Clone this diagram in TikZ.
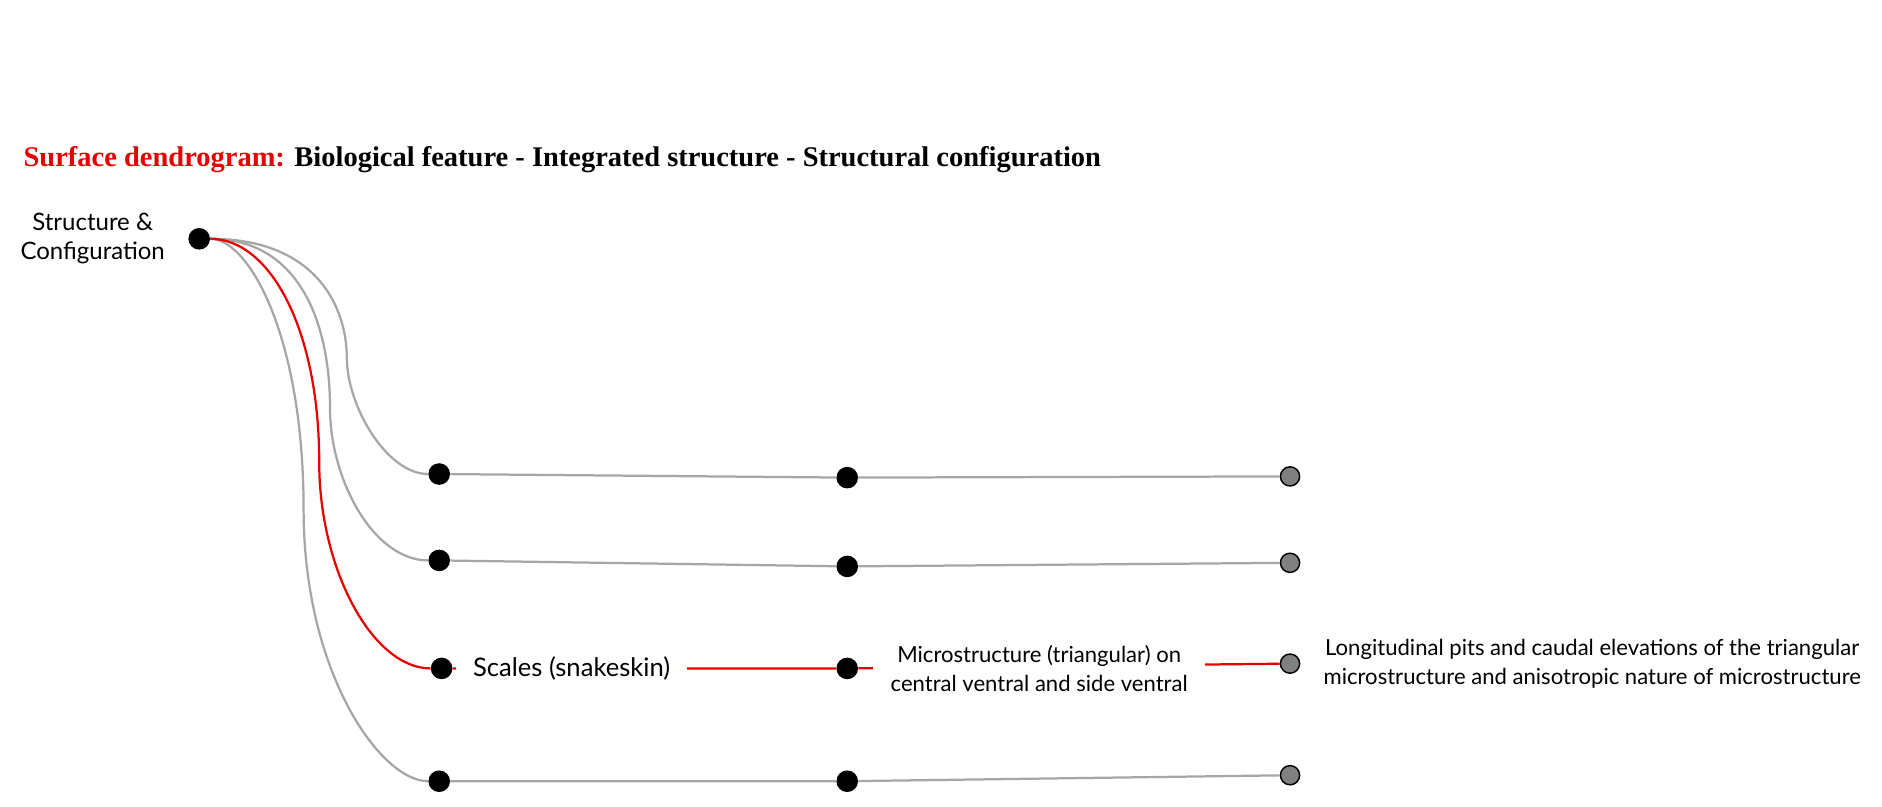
\documentclass[tikz,border=0pt]{standalone}
\usepackage{fontspec}
\setmainfont{Lato}
\newfontfamily\titlefont{Liberation Serif}
\usetikzlibrary{positioning}
\definecolor{branchgray}{RGB}{166,166,166}
\definecolor{hotred}{RGB}{230,0,0}
\definecolor{leafgray}{RGB}{128,128,128}

\begin{document}
\begin{tikzpicture}
  [x=0.75pt, y=-0.75pt,
   vertex/.style={circle, fill=black, inner sep=0pt, minimum size=13.5pt},
   leaf/.style={circle, fill=leafgray, draw=black, line width=0.9pt, inner sep=0pt, minimum size=12pt},
   branch/.style={draw=branchgray, line width=1.4pt},
   hot/.style={draw=hotred, line width=1.4pt},
   lbl/.style={fill=white, align=center, inner ysep=1pt}]
  \useasboundingbox (0,0) rectangle (1568.3,671.7);

  \node[anchor=base west, font=\titlefont\bfseries\fontsize{17.8}{20}\selectfont] (title) at (15,139)
    {\textcolor{hotred}{Surface dendrogram:} Biological feature - Integrated structure - Structural configuration};

  \node[vertex] (root) at (166,199) {};
  \node[left=11pt of root, align=center, font=\fontsize{15}{18}\selectfont] (rootlbl) {Structure \&\\Configuration};

  % features, structures, configurations
  \node[vertex] (a1) at (366,395) {};
  \node[vertex] (b1) at (706,398) {};
  \node[leaf] (c1) at (1075,397) {};
  \node[vertex] (a2) at (366,467) {};
  \node[vertex] (b2) at (706,472) {};
  \node[leaf] (c2) at (1075,469) {};
  \node[vertex] (a3) at (368,557) {};
  \node[vertex] (b3) at (706,557) {};
  \node[leaf] (c3) at (1075,553) {};
  \node[vertex] (a4) at (366,651) {};
  \node[vertex] (b4) at (706,651) {};
  \node[leaf] (c4) at (1075,646) {};

  \coordinate (m1) at (289,298);
  \coordinate (m2) at (275,340);
  \coordinate (m3) at (266,385);
  \coordinate (m4) at (253,425);

  \path[branch] (root) to[out=0, in=90, out distance=67.5pt, in distance=30pt] (m1)
    to[out=-90, in=180, out distance=30pt, in distance=26pt] (a1);
  \path[branch] (root) to[out=0, in=90, out distance=56pt, in distance=52.5pt] (m2)
    to[out=-90, in=180, out distance=45pt, in distance=34pt] (a2);
  \path[branch] (root) to[out=0, in=90, out distance=24pt, in distance=109pt] (m4)
    to[out=-90, in=180, out distance=101pt, in distance=30pt] (a4);
  \path[hot] (root) to[out=0, in=90, out distance=37.5pt, in distance=82.5pt] (m3)
    to[out=-90, in=180, out distance=67.5pt, in distance=36pt] (a3);

  \draw[branch] (a1) -- (b1) -- (c1);
  \draw[branch] (a2) -- (b2) -- (c2);
  \draw[branch] (a4) -- (b4) -- (c4);
  \draw[hot] (a3) -- (b3) -- (c3);

  \node[lbl, right=2pt of a3, inner xsep=10.5pt, font=\fontsize{16}{18}\selectfont] (scales) {Scales (snakeskin)};
  \node[lbl, right=9pt of b3, inner xsep=11pt, font=\fontsize{13.8}{18}\selectfont] (micro)
    {Microstructure (triangular) on\\central ventral and side ventral};
  \node[right=11pt of c3, align=center, font=\fontsize{13.8}{18}\selectfont] (pits)
    {Longitudinal pits and caudal elevations of the triangular\\microstructure and anisotropic nature of microstructure};
\end{tikzpicture}
\end{document}
